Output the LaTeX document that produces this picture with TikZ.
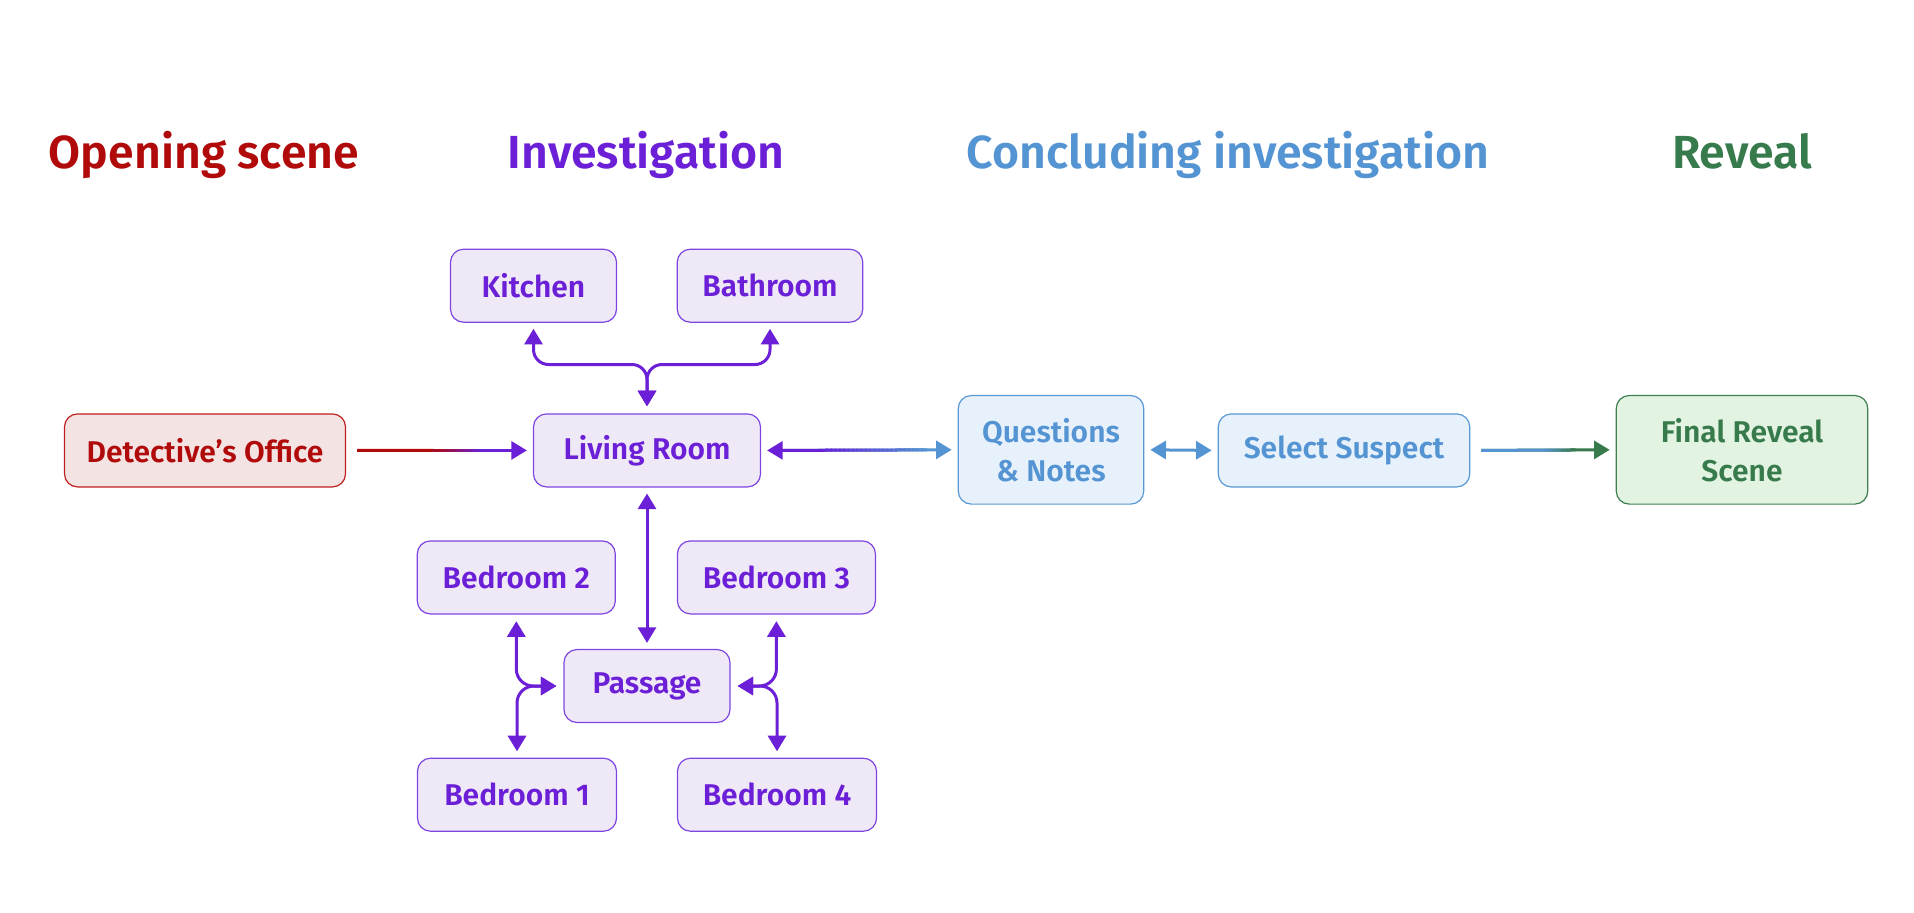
\documentclass[tikz,border=0pt]{standalone}
\usepackage{fontspec}
\usetikzlibrary{arrows.meta,calc}
\newfontfamily\plex{Fira Sans SemiBold}
\definecolor{redT}{HTML}{B00A0A}
\definecolor{redF}{HTML}{F4E3E3}
\definecolor{redB}{HTML}{BF1E1E}
\definecolor{purT}{HTML}{6B1FD6}
\definecolor{purF}{HTML}{EFE8F7}
\definecolor{purB}{HTML}{7E45E0}
\definecolor{bluT}{HTML}{5494D2}
\definecolor{bluF}{HTML}{E6F1FC}
\definecolor{bluB}{HTML}{5A98D4}
\definecolor{grnT}{HTML}{377A4B}
\definecolor{grnF}{HTML}{E2F3E2}
\definecolor{grnB}{HTML}{3F7F50}
% gradient overlay on a straight connector: #1 start, #2 end, #3/#4 colours, #5/#6 fractions
\newcommand\gradconn[6]{%
  \draw[conn, #3] (#1) -- ($(#1)!#5!(#2)$);
  \foreach \i in {0,...,23}{%
    \pgfmathsetmacro\fa{#5+(#6-#5)*\i/24}%
    \pgfmathsetmacro\fb{#5+(#6-#5)*(\i+1.4)/24}%
    \pgfmathtruncatemacro\pc{100-100*(\i+0.5)/24}%
    \draw[conn, color=#3!\pc!#4] ($(#1)!\fa!(#2)$) -- ($(#1)!\fb!(#2)$);
  }%
}
\begin{document}
\begin{tikzpicture}[x=0.5pt,y=-0.5pt,
  Tri/.tip={Triangle[length=7.8pt,width=9pt]},
  box/.style={rounded corners=6.5pt, minimum height=36.5pt, inner sep=0pt, align=center,
    line width=0.6pt, font=\plex\fontsize{15}{19.5}\selectfont},
  redbox/.style={box, draw=redB, fill=redF, text=redT},
  purbox/.style={box, draw=purB, fill=purF, text=purT},
  blubox/.style={box, draw=bluB, fill=bluF, text=bluT},
  grnbox/.style={box, draw=grnB, fill=grnF, text=grnT},
  tall/.style={minimum height=54.3pt},
  title/.style={anchor=base, font=\plex\fontsize{23.2}{28}\selectfont, inner sep=0pt},
  conn/.style={line width=1.5pt}
]
\useasboundingbox (0,0) rectangle (1914,912);

% titles
\node[title, text=redT] (t1) at (204,168) {Opening scene};
\node[title, text=purT] (t2) at (646,168) {Investigation};
\node[title, text=bluT] (t3) at (1228,168) {Concluding investigation};
\node[title, text=grnT] (t4) at (1742,168) {Reveal};

% nodes
\node[redbox, minimum width=140.5pt] (det) at (205,450.4) {Detective’s Office};
\node[purbox, minimum width=113.5pt] (liv) at (647,450.4) {Living Room};
\node[purbox, minimum width=83pt] (kit) at (533.5,285.7) {Kitchen};
\node[purbox, minimum width=92.75pt] (bath) at (770,285.7) {Bathroom};
\node[purbox, minimum width=99pt] (bed2) at (516.3,577.4) {Bedroom 2};
\node[purbox, minimum width=99pt] (bed3) at (776.4,577.4) {Bedroom 3};
\node[purbox, minimum width=83pt] (pass) at (647,686) {Passage};
\node[purbox, minimum width=99.5pt] (bed1) at (517,794.7) {Bedroom 1};
\node[purbox, minimum width=99.5pt] (bed4) at (777,794.7) {Bedroom 4};
\node[blubox, tall, minimum width=92.75pt] (ques) at (1051,449.8) {Questions\\\& Notes};
\node[blubox, minimum width=125.75pt] (sel) at (1344,450.4) {Select Suspect};
\node[grnbox, tall, minimum width=125.75pt] (fin) at (1742,449.8) {Final Reveal\\Scene};

% connector end points
\coordinate (a1) at ($(det.east)+(11,0)$);
\coordinate (a2) at ($(liv.west)+(-6,0)$);
\coordinate (b1) at ($(liv.east)+(6,0)$);
\coordinate (b2) at ($(ques.west)+(-6,0)$);
\coordinate (c1) at ($(ques.east)+(6,0)$);
\coordinate (c2) at ($(sel.west)+(-6,0)$);
\coordinate (d1) at ($(sel.east)+(11,0)$);
\coordinate (d2) at ($(fin.west)+(-6,0)$);

% horizontal connectors
\draw[conn, purT, -{Tri}] (a1) -- (a2);
\gradconn{a1}{a2}{redT}{purT}{0.45}{0.73}
\draw[conn, bluT, {Tri[color=purT]}-{Tri}] (b1) -- (b2);
\gradconn{$(b1)+(9,0)$}{b2}{purT}{bluT}{0.26}{0.85}
\draw[conn, bluT, {Tri}-{Tri}] (c1) -- (c2);
\draw[conn, grnT, -{Tri}] (d1) -- (d2);
\gradconn{d1}{d2}{bluT}{grnT}{0.49}{0.73}

% investigation connectors
\draw[conn, purT, {Tri}-{Tri}] ($(liv.south)+(0,6)$) -- ($(pass.north)+(0,-6)$);
\draw[conn, purT, {Tri}-{Tri}, rounded corners=7.5pt] ($(kit.south)+(0,6)$) |- ($(liv.north)+(0,-48.8)$) -- ($(liv.north)+(0,-7)$);
\draw[conn, purT, {Tri}-{Tri}, rounded corners=7.5pt] ($(bath.south)+(0,6)$) |- ($(liv.north)+(0,-48.8)$) -- ($(liv.north)+(0,-7)$);
\draw[conn, purT, {Tri}-{Tri}, rounded corners=8.5pt] ($(bed2.south)+(0,6.7)$) |- ($(pass.west)+(-7,0)$);
\draw[conn, purT, {Tri}-{Tri}, rounded corners=8.5pt] ($(bed1.north)+(0,-6.3)$) |- ($(pass.west)+(-7,0)$);
\draw[conn, purT, {Tri}-{Tri}, rounded corners=8.5pt] ($(bed3.south)+(0,6.7)$) |- ($(pass.east)+(7,0)$);
\draw[conn, purT, {Tri}-{Tri}, rounded corners=8.5pt] ($(bed4.north)+(0,-6.3)$) |- ($(pass.east)+(7,0)$);
\end{tikzpicture}
\end{document}
